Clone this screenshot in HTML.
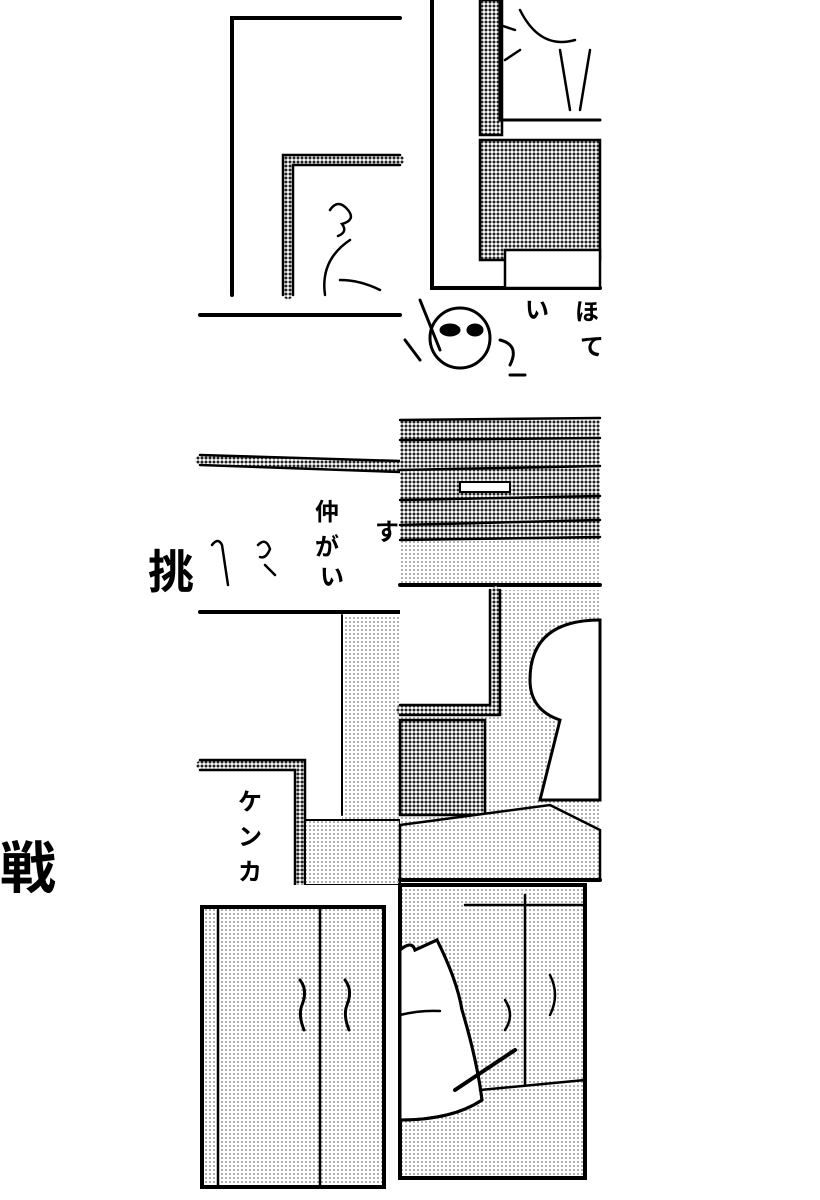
<!DOCTYPE html>
<html><head><meta charset="utf-8"><style>
html,body{margin:0;padding:0;background:#fff;width:820px;height:1200px;overflow:hidden}
svg{display:block}
text{font-family:"Liberation Sans","Noto Sans CJK JP",sans-serif;font-weight:bold}
</style></head><body>
<svg width="820" height="1200" viewBox="0 0 820 1200" xmlns="http://www.w3.org/2000/svg">
<defs>
<pattern id="lt" width="4" height="4" patternUnits="userSpaceOnUse"><rect width="4" height="4" fill="#fff"/><circle cx="2" cy="2" r="0.9" fill="#777"/></pattern>
<pattern id="dk" width="4" height="4" patternUnits="userSpaceOnUse"><rect width="4" height="4" fill="#fff"/><circle cx="2" cy="2" r="1.5" fill="#222"/></pattern>
</defs>
<rect width="820" height="1200" fill="#fff"/>
<g fill="none" stroke="#000" stroke-linecap="round">
<!-- tile A -->
<path d="M232 295 V18 H400" stroke-width="4"/>
<path d="M288 295 V160 H400" stroke="url(#dk)" stroke-width="9"/>
<path d="M283 295 V155 H400 M293 295 V165 H400" stroke-width="2.5"/>
<path d="M330 210 q8 -12 18 0 q8 10 -6 14 q6 8 -4 12 M350 240 q-30 20 -25 55 M340 280 q20 0 40 10" stroke-width="2.5"/>
<!-- tile B -->
<path d="M432 0 V288 H600" stroke-width="4"/>
<rect x="480" y="0" width="22" height="135" fill="url(#dk)" stroke-width="2.5"/>
<path d="M500 0 V120 H600" stroke-width="3"/>
<rect x="480" y="140" width="120" height="120" fill="url(#dk)" stroke-width="2.5"/>
<rect x="505" y="250" width="95" height="38" fill="#fff" stroke-width="2.5"/>
<path d="M520 10 q20 40 55 30 M515 30 l-15 -5 M520 50 l-15 10 M560 50 l10 60 M590 50 l-10 60" stroke-width="2.5"/>
<!-- tile C -->
<path d="M200 315 H400" stroke-width="4"/>
<path d="M200 460 L400 467" stroke="url(#dk)" stroke-width="10"/>
<path d="M200 455 L400 461 M200 465 L400 472" stroke-width="2.5"/>
<path d="M212 545 q6 -8 10 0 l6 40 M258 545 q8 -8 12 4 q-4 10 -10 8 M265 565 l10 10" stroke-width="2.5"/>
<!-- tile D -->
<rect x="400" y="420" width="200" height="120" fill="url(#dk)" stroke="none"/>
<rect x="400" y="540" width="200" height="45" fill="url(#lt)" stroke="none"/>
<path d="M400 420 L600 418 M400 440 L600 438 M400 470 L600 466 M400 500 L600 496 M400 525 L600 520 M400 540 L600 537" stroke-width="2.5"/>
<rect x="460" y="482" width="50" height="10" fill="#fff" stroke-width="2"/>
<path d="M400 585 H600" stroke-width="4"/>
<circle cx="460" cy="338" r="30" stroke-width="3"/>
<path d="M420 300 l20 50 M405 340 l15 20 M500 340 q20 5 10 25 M510 375 l15 0" stroke-width="3"/>
<ellipse cx="450" cy="330" rx="10" ry="6" fill="#000"/><ellipse cx="475" cy="330" rx="8" ry="6" fill="#000"/>
<!-- tile E -->
<path d="M200 612 H400" stroke-width="4"/>
<rect x="342" y="615" width="58" height="270" fill="url(#lt)" stroke="none"/>
<path d="M342 615 V815" stroke-width="2"/>
<path d="M200 765 H300 V885" stroke="url(#dk)" stroke-width="8"/>
<path d="M200 760 H305 V885 M200 770 H295 V885" stroke-width="2.5"/>
<rect x="305" y="820" width="95" height="65" fill="url(#lt)" stroke-width="2"/>
<!-- tile F -->
<rect x="400" y="590" width="200" height="290" fill="url(#lt)" stroke="none"/>
<rect x="400" y="590" width="95" height="118" fill="#fff" stroke="none"/>
<path d="M495 590 V710 H400" stroke="url(#dk)" stroke-width="8"/>
<path d="M490 590 V705 H400 M500 590 V715 H400" stroke-width="2.5"/>
<rect x="400" y="720" width="85" height="95" fill="url(#dk)" stroke-width="2.5"/>
<path d="M600 620 q-70 0 -70 60 q0 30 30 40 l-20 80 H600 Z" fill="#fff" stroke-width="3"/>
<path d="M400 825 L550 805 L600 830 V880 H400 Z" fill="url(#lt)" stroke-width="2.5"/>
<path d="M400 880 H600" stroke-width="4"/>
<!-- tile G -->
<rect x="200" y="885" width="200" height="295" fill="#fff" stroke="none"/>
<rect x="202" y="907" width="182" height="280" fill="url(#lt)" stroke-width="4"/>
<path d="M218 910 V1185 M320 910 V1185" stroke-width="2.5"/>
<path d="M300 980 q8 10 2 25 q-4 10 2 25 M345 980 q8 10 2 25 q-4 10 2 25" stroke-width="3"/>
<!-- tile H -->
<rect x="400" y="885" width="185" height="293" fill="url(#lt)" stroke-width="4"/>
<path d="M400 950 q12 -10 15 0 l22 -10 q20 40 25 70 q15 50 20 90 q-30 20 -82 20 Z" fill="#fff" stroke-width="3"/>
<path d="M400 950 q12 -10 15 0 l22 -10 q20 40 25 70 q15 50 20 90 q-30 20 -82 20" stroke-width="3"/>
<path d="M465 905 H585 M525 895 V1085 M480 1090 L585 1080 M400 1015 q20 -5 40 -4 M505 1000 q10 15 0 30 M550 975 q10 20 0 40" stroke-width="2.5"/>
<path d="M455 1090 L515 1050" stroke-width="4"/>
</g>
<text x="148" y="588" font-size="46">挑</text>
<text x="0" y="888" font-size="56">戦</text>
<g font-size="24" font-weight="normal">
<text x="315" y="520">仲</text><text x="315" y="555">が</text><text x="320" y="585">い</text>
<text x="375" y="540">す</text>
<text x="238" y="810">ケ</text><text x="238" y="845">ン</text><text x="238" y="880">カ</text>
<text x="525" y="318">い</text><text x="575" y="320">ほ</text><text x="580" y="355">て</text>
</g>
</svg>
</body></html>
